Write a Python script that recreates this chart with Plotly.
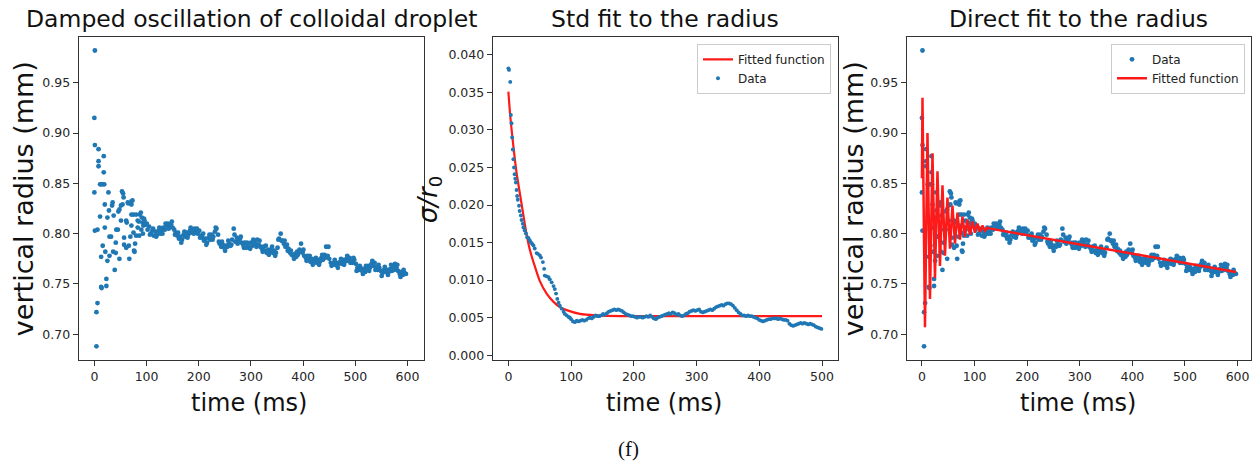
import plotly.graph_objects as go

# ---------------- data: vertical radius (panels 1 and 3) ----------------
early_t = [0, 0, 1, 1, 1, 4, 4, 6, 6, 8, 8, 8, 11, 11, 13, 13, 13, 14, 16, 16, 18, 18, 19, 20, 20, 21, 23, 23,
           25, 25, 27, 28, 29, 29, 32, 34, 35, 36, 37, 39, 41, 41, 42, 45, 46, 48, 48, 51, 51, 53, 54, 55, 56,
           57, 57, 61, 61, 62, 64, 65, 66, 67, 69, 71, 71, 71, 71, 73, 75, 75, 76, 77, 78, 80, 80, 83, 83, 85,
           86, 87, 89, 90, 91, 92, 93, 94, 95, 96, 97]
early_r = [0.915, 0.841, 0.982, 0.888, 0.803, 0.722, 0.688, 0.804, 0.731, 0.884, 0.872, 0.867, 0.849, 0.817,
           0.747, 0.777, 0.849, 0.746, 0.849, 0.788, 0.877, 0.861, 0.849, 0.806, 0.829, 0.782, 0.755, 0.748,
           0.773, 0.816, 0.841, 0.823, 0.797, 0.778, 0.797, 0.828, 0.831, 0.782, 0.818, 0.764, 0.791, 0.781,
           0.804, 0.804, 0.822, 0.824, 0.775, 0.828, 0.813, 0.842, 0.829, 0.840, 0.836, 0.796, 0.789, 0.813,
           0.786, 0.811, 0.831, 0.830, 0.788, 0.775, 0.797, 0.832, 0.829, 0.819, 0.808, 0.833, 0.819, 0.801,
           0.783, 0.782, 0.790, 0.819, 0.798, 0.813, 0.806, 0.812, 0.798, 0.819, 0.821, 0.804, 0.816, 0.811,
           0.800, 0.808, 0.815, 0.813, 0.809]

band_t = list(range(99, 598, 3))
band_r = [
    0.809, 0.804, 0.807, 0.800, 0.803, 0.798, 0.802, 0.799, 0.803, 0.800,
    0.803, 0.806, 0.804, 0.808, 0.810, 0.807, 0.809, 0.806, 0.804, 0.801,
    0.798, 0.795, 0.797, 0.794, 0.799, 0.797, 0.801, 0.799, 0.803, 0.801,
    0.803, 0.805, 0.802, 0.800, 0.803, 0.798, 0.796, 0.793, 0.795, 0.791,
    0.796, 0.794, 0.799, 0.797, 0.802, 0.805, 0.799, 0.790, 0.787, 0.789,
    0.786, 0.788, 0.787, 0.790, 0.788, 0.794, 0.805, 0.792, 0.796, 0.793,
    0.795, 0.791, 0.789, 0.791, 0.786, 0.788, 0.786, 0.791, 0.788, 0.792,
    0.790, 0.794, 0.789, 0.787, 0.785, 0.787, 0.783, 0.781, 0.784, 0.782,
    0.784, 0.781, 0.783, 0.781, 0.786, 0.795, 0.800, 0.793, 0.790, 0.787,
    0.789, 0.785, 0.781, 0.779, 0.778, 0.780, 0.777, 0.779, 0.784, 0.790,
    0.781, 0.778, 0.776, 0.778, 0.774, 0.772, 0.775, 0.771, 0.773, 0.771,
    0.774, 0.772, 0.776, 0.774, 0.779, 0.787, 0.778, 0.775, 0.771, 0.769,
    0.771, 0.769, 0.771, 0.770, 0.772, 0.770, 0.774, 0.772, 0.775, 0.773,
    0.776, 0.773, 0.771, 0.774, 0.770, 0.766, 0.764, 0.766, 0.763, 0.765,
    0.762, 0.766, 0.768, 0.766, 0.770, 0.768, 0.771, 0.767, 0.764, 0.766,
    0.763, 0.761, 0.764, 0.762, 0.764, 0.762, 0.765, 0.763, 0.767, 0.770,
    0.766, 0.763, 0.760, 0.762, 0.759, 0.761, 0.760]

# second, interleaved set of samples (every 6 ms, offset by 1.5 ms)
band2_t = [100.5 + 6 * k for k in range(83)]
band2_r = [
    0.810, 0.799, 0.805, 0.797, 0.806, 0.800, 0.810, 0.805, 0.812, 0.799,
    0.801, 0.791, 0.802, 0.796, 0.806, 0.800, 0.805, 0.796, 0.800, 0.789,
    0.799, 0.794, 0.806, 0.792, 0.792, 0.783, 0.793, 0.789, 0.799, 0.790,
    0.797, 0.786, 0.791, 0.785, 0.794, 0.787, 0.793, 0.782, 0.788, 0.779,
    0.787, 0.778, 0.794, 0.793, 0.793, 0.783, 0.783, 0.775, 0.782, 0.782,
    0.784, 0.773, 0.778, 0.769, 0.776, 0.769, 0.779, 0.776, 0.787, 0.768,
    0.774, 0.766, 0.775, 0.769, 0.778, 0.771, 0.776, 0.763, 0.768, 0.760,
    0.768, 0.763, 0.773, 0.764, 0.769, 0.758, 0.767, 0.759, 0.769, 0.764,
    0.769, 0.757, 0.764]

radius_t = early_t + band_t + band2_t
radius_r = early_r + band_r + band2_r

# ---------------- data: sigma / r0 (panel 2) ----------------
sd_early_t = [0, 1, 3, 4, 5, 6, 7, 8, 9, 10, 11, 12, 13, 14, 15, 17, 18, 20, 21, 23, 24, 26, 28, 30, 32, 34,
              36, 38, 40, 42, 45, 47, 50, 52, 55, 57, 58, 61, 64, 66, 69, 72, 74, 76, 78, 80, 82, 85, 88, 90,
              93, 96, 98]
sd_early_v = [0.0382, 0.0380, 0.0364, 0.0320, 0.0309, 0.0290, 0.0274, 0.0261, 0.0250, 0.0241, 0.0235, 0.0230,
              0.0220, 0.0212, 0.0207, 0.0199, 0.0192, 0.0186, 0.0180, 0.0175, 0.0170, 0.0166, 0.0162, 0.0157,
              0.0156, 0.0153, 0.0150, 0.0148, 0.0146, 0.0142, 0.0136, 0.0135, 0.0133, 0.0130, 0.0124, 0.0115,
              0.0106, 0.0105, 0.0104, 0.0101, 0.0097, 0.0092, 0.0088, 0.0082, 0.0075, 0.0070, 0.0066, 0.0062,
              0.0058, 0.0055, 0.0053, 0.0051, 0.0050]
sd_band_t = list(range(100, 500, 3))
sd_band_v = [
    0.0048, 0.0045, 0.0044, 0.0046, 0.0045, 0.0046, 0.0047, 0.0046, 0.0047, 0.0049,
    0.0050, 0.0049, 0.0051, 0.0053, 0.0052, 0.0052, 0.0053, 0.0055, 0.0054, 0.0056,
    0.0058, 0.0059, 0.0060, 0.0061, 0.0060, 0.0061, 0.0060, 0.0059, 0.0057, 0.0055,
    0.0054, 0.0053, 0.0052, 0.0052, 0.0051, 0.0050, 0.0051, 0.0051, 0.0050, 0.0051,
    0.0052, 0.0051, 0.0053, 0.0051, 0.0049, 0.0048, 0.0050, 0.0051, 0.0052, 0.0053,
    0.0054, 0.0055, 0.0056, 0.0055, 0.0057, 0.0056, 0.0054, 0.0055, 0.0053, 0.0052,
    0.0053, 0.0055, 0.0056, 0.0058, 0.0059, 0.0060, 0.0059, 0.0060, 0.0061, 0.0058,
    0.0057, 0.0058, 0.0059, 0.0060, 0.0061, 0.0060, 0.0062, 0.0064, 0.0065, 0.0066,
    0.0067, 0.0066, 0.0068, 0.0069, 0.0069, 0.0068, 0.0066, 0.0063, 0.0060, 0.0057,
    0.0055, 0.0053, 0.0053, 0.0052, 0.0053, 0.0052, 0.0052, 0.0051, 0.0050, 0.0049,
    0.0047, 0.0046, 0.0045, 0.0046, 0.0047, 0.0048, 0.0048, 0.0049, 0.0049, 0.0049,
    0.0048, 0.0049, 0.0048, 0.0047, 0.0047, 0.0046, 0.0042, 0.0040, 0.0039, 0.0040,
    0.0041, 0.0042, 0.0043, 0.0042, 0.0043, 0.0042, 0.0041, 0.0042, 0.0041, 0.0040,
    0.0038, 0.0037, 0.0036, 0.0035]
sd_t = sd_early_t + sd_band_t
sd_v = sd_early_v + sd_band_v

# fitted curve, panel 2
fit2_t = [0, 3, 8, 13, 19, 24, 29, 34, 40, 50, 61, 72, 82, 93, 114, 140, 180, 250, 350, 500]
fit2_v = [0.0351, 0.0318, 0.0278, 0.0243, 0.0212, 0.0186, 0.0161, 0.0141, 0.0124, 0.0099, 0.0082, 0.0071,
          0.0064, 0.0060, 0.0055, 0.0053, 0.0052, 0.0052, 0.0052, 0.0052]

# fitted function, panel 3 (turning points)
fit3_t = [0, 1, 5.75, 10.5, 15.25, 20, 24.75, 29.5, 34.25, 39, 43.75, 48.5, 53.25, 58, 62.75, 67.5, 72.25,
          77, 81.75, 86.5, 91.25, 96, 100.75, 105.5, 110.25, 115, 119.75, 124.5, 130, 597]
fit3_v = [0.855, 0.935, 0.707, 0.900, 0.735, 0.880, 0.756, 0.862, 0.768, 0.848, 0.778, 0.836, 0.785, 0.828,
          0.790, 0.821, 0.794, 0.817, 0.797, 0.814, 0.799, 0.812, 0.801, 0.810, 0.802, 0.808, 0.803, 0.806,
          0.805, 0.762]

titles = ["Damped oscillation of colloidal droplet", "Std fit to the radius", "Direct fit to the radius"]
ytitles = ["vertical radius (mm)", "<i>σ/r</i><sub>0</sub>", "vertical radius (mm)"]
xtitle = "time (ms)"

BLUE = "#1f77b4"
RED = "#ff1a1a"
FONT = "DejaVu Sans"
W, H = 1257, 467

fig = go.Figure()

fig.add_trace(go.Scatter(x=radius_t, y=radius_r, mode="markers", xaxis="x", yaxis="y",
                         marker=dict(color=BLUE, size=4.8, line=dict(width=0)), showlegend=False))

fig.add_trace(go.Scatter(x=fit2_t, y=fit2_v, mode="lines", xaxis="x2", yaxis="y2", name="Fitted function",
                         line=dict(color=RED, width=2.2, shape="spline", smoothing=0.6), legend="legend2"))
fig.add_trace(go.Scatter(x=sd_t, y=sd_v, mode="markers", xaxis="x2", yaxis="y2", name="Data",
                         marker=dict(color=BLUE, size=3.9, line=dict(width=0)), legend="legend2"))

fig.add_trace(go.Scatter(x=radius_t, y=radius_r, mode="markers", xaxis="x3", yaxis="y3", name="Data",
                         marker=dict(color=BLUE, size=4.8, line=dict(width=0)), legend="legend3"))
fig.add_trace(go.Scatter(x=fit3_t, y=fit3_v, mode="lines", xaxis="x3", yaxis="y3", name="Fitted function",
                         line=dict(color=RED, width=2.5), legend="legend3"))

x_dom = [[78.7 / W, 423.7 / W], [492.7 / W, 837.7 / W], [906.7 / W, 1250.7 / W]]
y_dom = [1 - 362 / H, 1 - 37 / H]

axis_common = dict(showline=True, mirror=True, linecolor="#333333", linewidth=1, ticks="outside",
                   ticklen=5, tickcolor="#333333", showgrid=False, zeroline=False,
                   tickfont=dict(family=FONT, size=12.5, color="#262626"))

fig.update_layout(
    width=W, height=H, margin=dict(l=0, r=0, t=0, b=0),
    paper_bgcolor="white", plot_bgcolor="white",
    xaxis=dict(domain=x_dom[0], anchor="y", range=[-30, 631], tickvals=[0, 100, 200, 300, 400, 500, 600],
               **axis_common),
    yaxis=dict(domain=y_dom, anchor="x", range=[0.674, 0.9956], tickvals=[0.70, 0.75, 0.80, 0.85, 0.90, 0.95],
               tickformat=".2f", **axis_common),
    xaxis2=dict(domain=x_dom[1], anchor="y2", range=[-25, 525], tickvals=[0, 100, 200, 300, 400, 500],
                **axis_common),
    yaxis2=dict(domain=y_dom, anchor="x2", range=[-0.0007, 0.0424],
                tickvals=[0.0, 0.005, 0.01, 0.015, 0.02, 0.025, 0.03, 0.035, 0.04], tickformat=".3f",
                **axis_common),
    xaxis3=dict(domain=x_dom[2], anchor="y3", range=[-29, 625], tickvals=[0, 100, 200, 300, 400, 500, 600],
                **axis_common),
    yaxis3=dict(domain=y_dom, anchor="x3", range=[0.674, 0.9956], tickvals=[0.70, 0.75, 0.80, 0.85, 0.90, 0.95],
                tickformat=".2f", **axis_common),
    legend2=dict(x=831 / W, xanchor="right", y=1 - 44 / H, yanchor="top", bgcolor="white",
                 bordercolor="#cccccc", borderwidth=1, font=dict(family=FONT, size=12, color="#222222")),
    legend3=dict(x=1245 / W, xanchor="right", y=1 - 44 / H, yanchor="top", bgcolor="white",
                 bordercolor="#cccccc", borderwidth=1, font=dict(family=FONT, size=12, color="#222222")),
)

title_x = [251, 665, 1078.5]
xlab_x = [249, 664, 1077.5]
ylab_x = [23, 429, 853]
ann = []
for i in range(3):
    ann.append(dict(text=titles[i], x=title_x[i] / W, y=1 - 19 / H, xref="paper", yref="paper",
                    xanchor="center", yanchor="middle", showarrow=False,
                    font=dict(family=FONT, size=23.5, color="#111111")))
    ann.append(dict(text=xtitle, x=xlab_x[i] / W, y=1 - 405 / H, xref="paper", yref="paper",
                    xanchor="center", yanchor="middle", showarrow=False,
                    font=dict(family=FONT, size=24, color="#111111")))
    ann.append(dict(text=ytitles[i], x=ylab_x[i] / W, y=1 - 200 / H, xref="paper", yref="paper",
                    xanchor="center", yanchor="middle", showarrow=False, textangle=-90,
                    font=dict(family=FONT, size=27 if i != 1 else 26, color="#111111")))
ann.append(dict(text="(f)", x=629 / W, y=1 - 451 / H, xref="paper", yref="paper", xanchor="center",
                yanchor="middle", showarrow=False, font=dict(family="Liberation Serif", size=21, color="#111111")))
fig.update_layout(annotations=ann)

fig.write_html("out.html")
